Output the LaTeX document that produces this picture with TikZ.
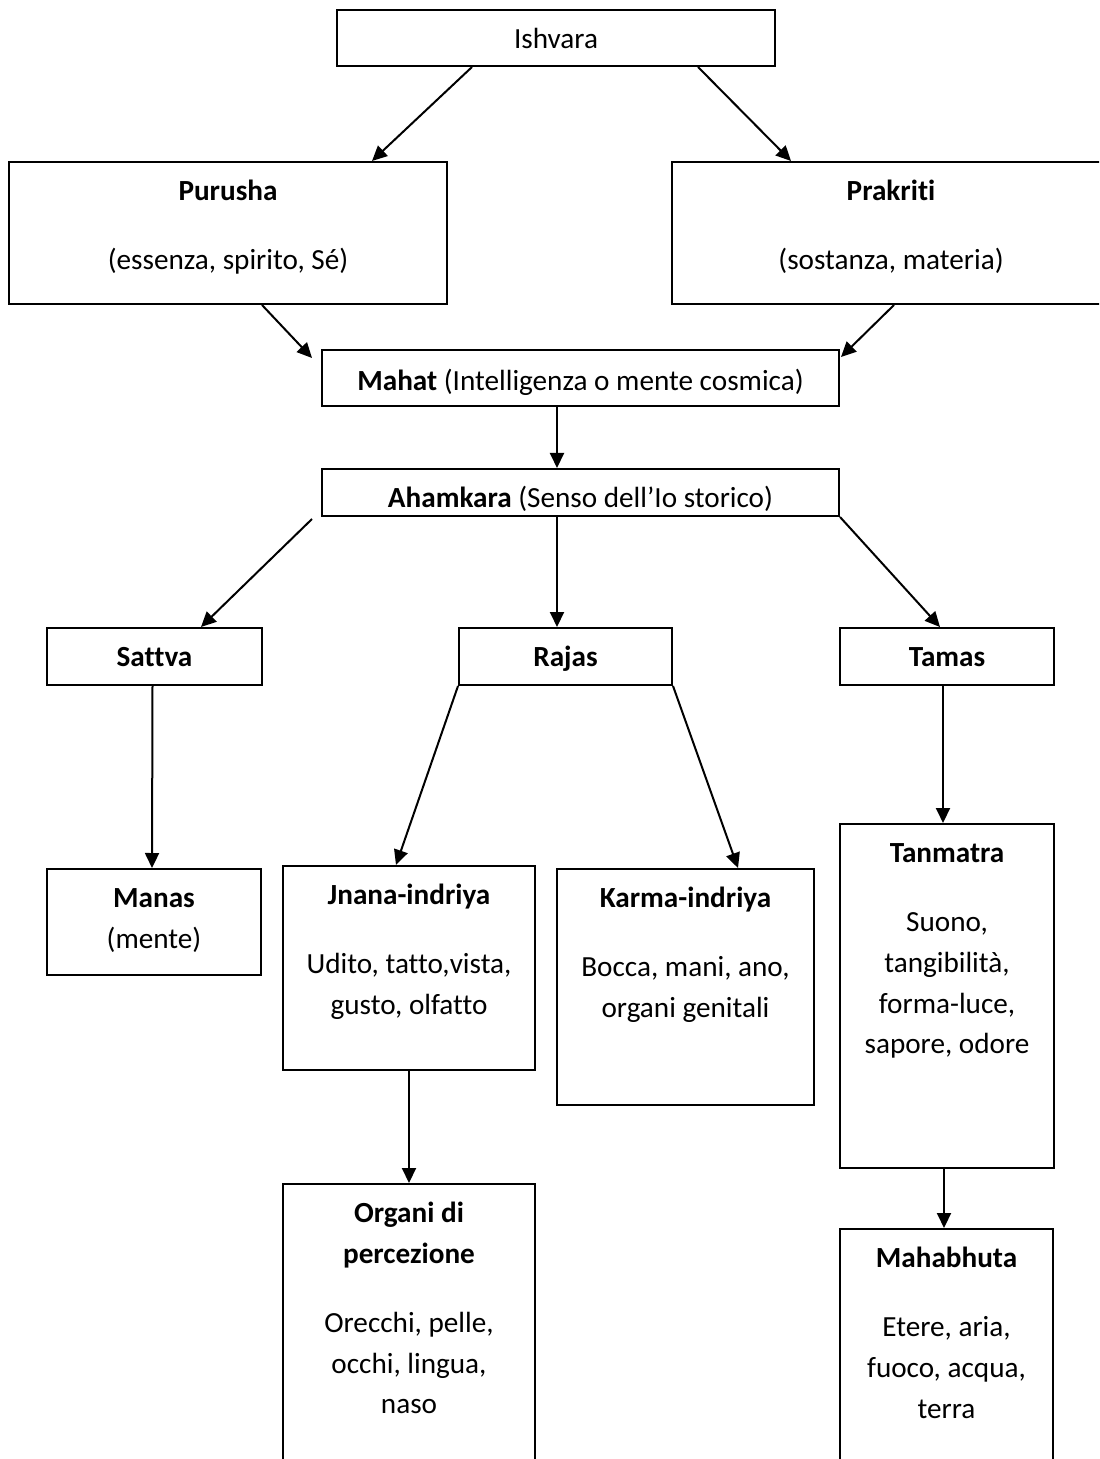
\documentclass[tikz,border=0pt]{standalone}
\usepackage{fontspec}
\setmainfont{Carlito}[Ligatures=NoCommon]
\usetikzlibrary{arrows.meta}

\begin{document}
\begin{tikzpicture}[
  x=0.5pt, y=-0.5pt,
  font=\fontsize{14.6}{20.4}\selectfont,
  box/.style={rectangle, draw=black, line width=1pt, inner sep=0pt, anchor=north west},
  txt/.style={anchor=north, align=center, inner sep=0pt, yshift=-5.4pt},
  arr/.style={-{Triangle[length=7.5pt, width=7pt]}, line width=1pt}
]
\useasboundingbox (0,0) rectangle (1099,1459);
\clip (0,0) rectangle (1099,1459);

\node[box, minimum width=219pt, minimum height=28pt] (ishvara) at (336,9) {};
\node[box, minimum width=219pt, minimum height=71pt] (purusha) at (8,161) {};
\node[box, minimum width=219pt, minimum height=71pt] (prakriti) at (671,161) {};
\node[box, minimum width=258.5pt, minimum height=28pt] (mahat) at (321,349) {};
\node[box, minimum width=258.5pt, minimum height=23.5pt] (ahamkara) at (321,468) {};
\node[box, minimum width=107.5pt, minimum height=28.5pt] (sattva) at (46,627) {};
\node[box, minimum width=106.5pt, minimum height=28.5pt] (rajas) at (458,627) {};
\node[box, minimum width=107pt, minimum height=28.5pt] (tamas) at (839,627) {};
\node[box, minimum width=107pt, minimum height=53pt] (manas) at (46,868) {};
\node[box, minimum width=126pt, minimum height=102pt] (jnana) at (282,865) {};
\node[box, minimum width=128.5pt, minimum height=118pt] (karma) at (556,868) {};
\node[box, minimum width=107pt, minimum height=172pt] (tanmatra) at (839,823) {};
\node[box, minimum width=126pt, minimum height=150pt] (organi) at (282,1183) {};
\node[box, minimum width=106.5pt, minimum height=140pt] (mahabhuta) at (839,1228) {};

\node[txt] (ishvara-t) at (ishvara.north) {\strut Ishvara};
\node[txt] (purusha-t) at (purusha.north) {\strut\textbf{Purusha}\\[14pt](essenza, spirito, Sé)};
\node[txt] (prakriti-t) at (prakriti.north) {\strut\textbf{Prakriti}\\[14pt](sostanza, materia)};
\node[txt, yshift=-1pt] (mahat-t) at (mahat.north) {\strut\textbf{Mahat} (Intelligenza o mente cosmica)};
\node[txt] (ahamkara-t) at (ahamkara.north) {\strut\textbf{Ahamkara} (Senso dell’Io storico)};
\node[txt] (sattva-t) at (sattva.north) {\strut\textbf{Sattva}};
\node[txt] (rajas-t) at (rajas.north) {\strut\textbf{Rajas}};
\node[txt] (tamas-t) at (tamas.north) {\strut\textbf{Tamas}};
\node[txt] (manas-t) at (manas.north) {\strut\textbf{Manas}\\(mente)};
\node[txt] (jnana-t) at (jnana.north) {\strut\textbf{Jnana-indriya}\\[14pt]Udito, tatto,vista,\\gusto, olfatto};
\node[txt] (karma-t) at (karma.north) {\strut\textbf{Karma-indriya}\\[14pt]Bocca, mani, ano,\\organi genitali};
\node[txt] (tanmatra-t) at (tanmatra.north) {\strut\textbf{Tanmatra}\\[14pt]Suono,\\tangibilità,\\forma-luce,\\sapore, odore};
\node[txt] (organi-t) at (organi.north) {\strut\textbf{Organi di}\\\textbf{percezione}\\[14pt]Orecchi, pelle,\\occhi, lingua,\\naso};
\node[txt] (mahabhuta-t) at (mahabhuta.north) {\strut\textbf{Mahabhuta}\\[14pt]Etere, aria,\\fuoco, acqua,\\terra};

\draw[arr] ([xshift=-42pt]ishvara.south) -- ([xshift=72pt]purusha.north);
\draw[arr] ([xshift=71pt]ishvara.south) -- ([xshift=-50pt]prakriti.north);
\draw[arr] ([xshift=17pt]purusha.south) -- ([xshift=-4.5pt, yshift=-4.5pt]mahat.north west);
\draw[arr] ([xshift=1.5pt]prakriti.south) -- ([xshift=0.5pt, yshift=-4pt]mahat.north east);
\draw[arr] ([xshift=-11.75pt]mahat.south) -- ([xshift=-11.75pt]ahamkara.north);
\draw[arr] ([xshift=-4.5pt, yshift=-1pt]ahamkara.south west) -- ([xshift=23.25pt]sattva.north);
\draw[arr] ([xshift=-11.75pt]ahamkara.south) -- ([xshift=-4.25pt]rajas.north);
\draw[arr] (ahamkara.south east) -- ([xshift=-3.5pt]tamas.north);
\draw[arr] ([xshift=-1pt]sattva.south) -- ([xshift=-1pt]manas.north);
\draw[arr] (rajas.south west) -- ([xshift=-6.5pt]jnana.north);
\draw[arr] (rajas.south east) -- ([xshift=26.25pt]karma.north);
\draw[arr] ([xshift=-2pt]tamas.south) -- ([xshift=-2pt]tanmatra.north);
\draw[arr] (jnana.south) -- (organi.north);
\draw[arr] ([xshift=-1.5pt]tanmatra.south) -- ([xshift=-1.25pt]mahabhuta.north);
\end{tikzpicture}
\end{document}
